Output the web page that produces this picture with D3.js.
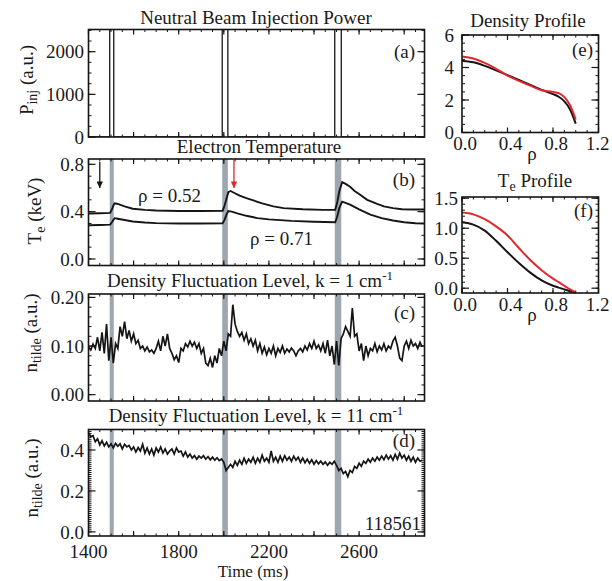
<!DOCTYPE html>
<html>
<head>
<meta charset="utf-8">
<script src="https://cdn.jsdelivr.net/npm/d3@7/dist/d3.min.js"></script>
<style>
body { margin: 0; background: #fff; }
text { font-family: "Liberation Serif", "Times New Roman", serif; fill: #1a1a1a; }
</style>
</head>
<body>
<div id="canvas"></div>
<script>
"use strict"

/* Configuration variables: drawing */
let svgWidth = 612;
let svgHeight = 581;
let fontSize = 19;
let bandColor = "#9ea6b0";
let redColor = "#e3262b";
let lineColor = "#151515";

/* Beam pulses: on / off times (ms) */
let beamOn = [1494, 1993, 2492];
let beamOff = [1512, 2018, 2521];
/* P_inj step trace (off the top of the axis while the beam is on) */
let pinjTime = [1400, 1494, 1494, 1512, 1512, 1993, 1993, 2018, 2018, 2492, 2492, 2521, 2521, 2890];
let pinjValue = [0, 0, 3000, 3000, 0, 0, 3000, 3000, 0, 0, 3000, 3000, 0, 0];

/* Electron temperature at rho = 0.52 and rho = 0.71 (keV) */
let te52Time = [1400, 1450, 1496, 1504, 1510, 1516, 1530, 1560, 1596, 1650, 1700, 1800, 1900, 1995, 2003, 2012, 2020, 2030, 2045, 2070, 2100, 2131, 2170, 2220, 2265, 2350, 2440, 2494, 2502, 2512, 2525, 2540, 2560, 2580, 2600, 2636, 2680, 2710, 2750, 2790, 2840, 2890];
let te52 = [0.385, 0.387, 0.39, 0.42, 0.45, 0.47, 0.465, 0.445, 0.425, 0.415, 0.41, 0.405, 0.405, 0.408, 0.45, 0.51, 0.565, 0.575, 0.56, 0.535, 0.515, 0.495, 0.47, 0.445, 0.43, 0.42, 0.415, 0.416, 0.47, 0.57, 0.65, 0.635, 0.61, 0.575, 0.55, 0.5, 0.465, 0.445, 0.43, 0.42, 0.418, 0.418];
let te71Time = [1400, 1450, 1496, 1504, 1510, 1516, 1530, 1560, 1596, 1650, 1700, 1800, 1900, 1995, 2003, 2012, 2020, 2035, 2060, 2100, 2150, 2200, 2300, 2400, 2494, 2502, 2512, 2525, 2540, 2560, 2600, 2650, 2700, 2750, 2800, 2850, 2890];
let te71 = [0.285, 0.287, 0.29, 0.31, 0.33, 0.345, 0.34, 0.33, 0.317, 0.308, 0.303, 0.3, 0.3, 0.302, 0.33, 0.375, 0.405, 0.4, 0.385, 0.365, 0.345, 0.335, 0.322, 0.315, 0.31, 0.35, 0.43, 0.485, 0.475, 0.46, 0.42, 0.375, 0.345, 0.325, 0.31, 0.302, 0.3];

/* Density fluctuation level, samples every 10 ms from 1400 ms */
let fluctStart = 1400;
let fluctStep = 10;
let nk1 = [
    0.098, 0.092, 0.104, 0.095, 0.118, 0.09, 0.128, 0.085, 0.145, 0.07,
    0.118, 0.065, 0.105, 0.095, 0.14, 0.12, 0.15, 0.115, 0.132, 0.11,
    0.125, 0.105, 0.112, 0.095, 0.1, 0.09, 0.098, 0.088, 0.092, 0.085,
    0.095, 0.11, 0.09, 0.12, 0.1, 0.125, 0.095, 0.085, 0.072, 0.08,
    0.066, 0.095, 0.09, 0.105, 0.098, 0.11, 0.1, 0.108, 0.095, 0.105,
    0.085, 0.095, 0.065, 0.06, 0.075, 0.056, 0.08, 0.065, 0.095, 0.08,
    0.11, 0.09, 0.125, 0.12, 0.185, 0.145, 0.13, 0.12, 0.128, 0.112,
    0.125, 0.105, 0.115, 0.1, 0.112, 0.09, 0.105, 0.085, 0.098, 0.082,
    0.095, 0.085, 0.1, 0.08, 0.095, 0.087, 0.1, 0.085, 0.094, 0.088,
    0.096, 0.09, 0.08, 0.09, 0.095, 0.088, 0.1, 0.092, 0.105, 0.095,
    0.11, 0.095, 0.102, 0.09, 0.105, 0.085, 0.112, 0.08, 0.1, 0.062,
    0.11, 0.06, 0.115, 0.125, 0.14, 0.13, 0.12, 0.178, 0.12, 0.125,
    0.09, 0.105, 0.07, 0.1, 0.08, 0.095, 0.09, 0.105, 0.088, 0.1,
    0.092, 0.105, 0.09, 0.1, 0.095, 0.11, 0.118, 0.1, 0.075, 0.07,
    0.1, 0.11, 0.095, 0.112, 0.1, 0.105, 0.095, 0.108, 0.098
];
let nk11 = [
    0.485, 0.465, 0.47, 0.44, 0.455, 0.425, 0.445, 0.42, 0.438, 0.415,
    0.43, 0.41, 0.432, 0.418, 0.43, 0.405, 0.428, 0.415, 0.422, 0.4,
    0.415, 0.39, 0.412, 0.395, 0.428, 0.385, 0.41, 0.38, 0.405, 0.375,
    0.41, 0.39, 0.415, 0.385, 0.405, 0.38, 0.395, 0.405, 0.38, 0.41,
    0.39, 0.395, 0.37, 0.39, 0.365, 0.38, 0.36, 0.372, 0.355, 0.37,
    0.36, 0.372, 0.355, 0.368, 0.352, 0.365, 0.35, 0.362, 0.348, 0.356,
    0.34, 0.3, 0.315, 0.33, 0.315, 0.345, 0.325, 0.35, 0.33, 0.36,
    0.335, 0.355, 0.34, 0.365, 0.335, 0.36, 0.34, 0.375, 0.345, 0.36,
    0.34, 0.395, 0.345, 0.365, 0.34, 0.37, 0.345, 0.372, 0.35, 0.365,
    0.345, 0.37, 0.35, 0.365, 0.34, 0.36, 0.338, 0.355, 0.335, 0.352,
    0.33, 0.348, 0.332, 0.345, 0.33, 0.342, 0.325, 0.34, 0.33, 0.345,
    0.325, 0.3, 0.31, 0.285, 0.295, 0.27, 0.3, 0.29, 0.32, 0.31,
    0.335, 0.32, 0.345, 0.335, 0.355, 0.34, 0.36, 0.345, 0.365, 0.35,
    0.37, 0.352, 0.375, 0.355, 0.372, 0.35, 0.378, 0.355, 0.385, 0.36,
    0.375, 0.35, 0.37, 0.345, 0.365, 0.34, 0.36, 0.345, 0.35
];

/* Profiles vs rho: black = before, red = after the pulse */
let rho = [0, 0.1, 0.2, 0.3, 0.4, 0.5, 0.6, 0.7, 0.8, 0.85, 0.9, 0.95, 1.0];
let neBlack = [4.42, 4.32, 4.1, 3.82, 3.53, 3.23, 2.93, 2.62, 2.36, 2.2, 1.92, 1.42, 0.55];
let neRed = [4.68, 4.55, 4.28, 3.92, 3.5, 3.18, 2.88, 2.6, 2.5, 2.42, 2.18, 1.68, 0.8];
let teBlack = [1.1, 1.06, 0.96, 0.79, 0.6, 0.42, 0.26, 0.13, 0.04, 0.01, -0.02, -0.05, -0.07];
let teRed = [1.26, 1.23, 1.15, 1.03, 0.88, 0.67, 0.47, 0.3, 0.16, 0.1, 0.04, -0.02, -0.07];

/* Tick labels */
let timeLabels = [1400, 1800, 2200, 2600];
let rhoLabels = [0, 0.4, 0.8, 1.2];


let svg = d3.select("#canvas")
    .append("svg")
    .attr("width", svgWidth)
    .attr("height", svgHeight);

svg.append("rect")
    .attr("width", svgWidth)
    .attr("height", svgHeight)
    .attr("fill", "white");

/* shared time scale for the four left panels */
let xTime = d3.scaleLinear()
    .domain([1400, 2890])
    .range([88.5, 424.5]);

let xRho = d3.scaleLinear()
    .domain([0, 1.2])
    .range([462, 598.5]);

/* draws the box and the inward ticks on all four sides */
function drawFrame(xs, ys, xMajor, xMinor, yMajor, yMinor) {
    let x0 = xs.range()[0], x1 = xs.range()[1];
    let y0 = ys.range()[0], y1 = ys.range()[1];
    let g = svg.append("g").attr("stroke", lineColor).attr("fill", "none");

    xMinor.forEach(function (v) {
        g.append("line").attr("x1", xs(v)).attr("x2", xs(v)).attr("y1", y0).attr("y2", y0 - 2.5).attr("stroke-width", 1);
        g.append("line").attr("x1", xs(v)).attr("x2", xs(v)).attr("y1", y1).attr("y2", y1 + 2.5).attr("stroke-width", 1);
    });
    xMajor.forEach(function (v) {
        g.append("line").attr("x1", xs(v)).attr("x2", xs(v)).attr("y1", y0).attr("y2", y0 - 5).attr("stroke-width", 1.2);
        g.append("line").attr("x1", xs(v)).attr("x2", xs(v)).attr("y1", y1).attr("y2", y1 + 5).attr("stroke-width", 1.2);
    });
    yMinor.forEach(function (v) {
        g.append("line").attr("x1", x0).attr("x2", x0 + 3).attr("y1", ys(v)).attr("y2", ys(v)).attr("stroke-width", 1);
        g.append("line").attr("x1", x1).attr("x2", x1 - 3).attr("y1", ys(v)).attr("y2", ys(v)).attr("stroke-width", 1);
    });
    yMajor.forEach(function (v) {
        g.append("line").attr("x1", x0).attr("x2", x0 + 7).attr("y1", ys(v)).attr("y2", ys(v)).attr("stroke-width", 1.2);
        g.append("line").attr("x1", x1).attr("x2", x1 - 7).attr("y1", ys(v)).attr("y2", ys(v)).attr("stroke-width", 1.2);
    });

    g.append("rect")
        .attr("x", x0)
        .attr("y", y1)
        .attr("width", x1 - x0)
        .attr("height", y0 - y1)
        .attr("stroke-width", 1.6);
}

/* y tick labels on the left */
function yLabels(ys, values, x, fmt) {
    values.forEach(function (v) {
        svg.append("text")
            .attr("x", x)
            .attr("y", ys(v))
            .attr("dy", "0.35em")
            .attr("text-anchor", "end")
            .attr("font-size", fontSize)
            .text(fmt(v));
    });
}

function clipFor(id, xs, ys) {
    svg.append("clipPath").attr("id", id)
        .append("rect")
        .attr("x", xs.range()[0])
        .attr("y", ys.range()[1])
        .attr("width", xs.range()[1] - xs.range()[0])
        .attr("height", ys.range()[0] - ys.range()[1]);
}

function bands(ys) {
    for (let i = 0; i < beamOn.length; i++) {
        svg.append("rect")
            .attr("x", xTime(beamOn[i]))
            .attr("y", ys.range()[1])
            .attr("width", xTime(beamOff[i]) - xTime(beamOn[i]))
            .attr("height", ys.range()[0] - ys.range()[1])
            .attr("fill", bandColor);
    }
}

function plainText(x, y, str, anchor) {
    return svg.append("text")
        .attr("x", x)
        .attr("y", y)
        .attr("text-anchor", anchor || "middle")
        .attr("font-size", fontSize)
        .text(str);
}

/* rotated axis title with a subscript */
function yTitle(x, y, main, sub, rest) {
    let t = svg.append("text")
        .attr("transform", "translate(" + x + "," + y + ") rotate(-90)")
        .attr("text-anchor", "middle")
        .attr("font-size", fontSize);
    t.append("tspan").text(main);
    t.append("tspan").attr("font-size", 14).attr("dy", 4).text(sub);
    t.append("tspan").attr("dy", -4).text(rest);
}

let timeLine = function (xs, ys) {
    return d3.line()
        .x(function (d) { return xs(d[0]); })
        .y(function (d) { return ys(d[1]); });
};

/* rho tick labels sit a little right of the tick, except the last one */
function rhoLabelX(r) {
    return r < 1.2 ? xRho(r) + 3 : xRho(r) - 1;
}

/**** (a) Neutral beam injection power ****/
let yA = d3.scaleLinear().domain([0, 2520]).range([137, 29.5]);
clipFor("clipA", xTime, yA);
svg.append("path")
    .datum(pinjTime.map(function (t, i) { return [t, pinjValue[i]]; }))
    .attr("clip-path", "url(#clipA)")
    .attr("fill", "none")
    .attr("stroke", lineColor)
    .attr("stroke-width", 1.3)
    .attr("d", timeLine(xTime, yA));
drawFrame(xTime, yA, d3.range(1400, 2891, 200), d3.range(1400, 2891, 50), [0, 1000, 2000], d3.range(0, 2521, 250));
yLabels(yA, [0, 1000, 2000], 84, d3.format("d"));
plainText(256, 24, "Neutral Beam Injection Power");
plainText(415, 58, "(a)", "end");
yTitle(33, 80, "P", "inj", " (a.u.)");

/**** (b) Electron temperature ****/
let yB = d3.scaleLinear().domain([-0.055, 0.845]).range([265.5, 159]);
bands(yB);
[[te52Time, te52], [te71Time, te71]].forEach(function (s) {
    svg.append("path")
        .datum(s[0].map(function (t, i) { return [t, s[1][i]]; }))
        .attr("fill", "none")
        .attr("stroke", lineColor)
        .attr("stroke-width", 1.9)
        .attr("d", timeLine(xTime, yB));
});
drawFrame(xTime, yB, d3.range(1400, 2891, 200), d3.range(1400, 2891, 50), [0, 0.4, 0.8], d3.range(0, 0.81, 0.1));
yLabels(yB, [0, 0.4, 0.8], 84, d3.format(".1f"));
plainText(259, 153, "Electron Temperature");
plainText(415, 186, "(b)", "end");
plainText(138, 201.5, "\u03c1 = 0.52", "start");
plainText(250, 245, "\u03c1 = 0.71", "start");
yTitle(41, 211, "T", "e", " (keV)");

/* arrows marking the profile times */
let defs = svg.append("defs");
[["headBlack", lineColor], ["headRed", redColor]].forEach(function (m) {
    defs.append("marker")
        .attr("id", m[0])
        .attr("viewBox", "0 0 10 10")
        .attr("refX", 10).attr("refY", 5)
        .attr("markerWidth", 5).attr("markerHeight", 5)
        .attr("orient", "auto")
        .append("path")
        .attr("d", "M0,0 L10,5 L0,10 Z")
        .attr("fill", m[1]);
});
svg.append("line")
    .attr("x1", xTime(1450)).attr("x2", xTime(1450))
    .attr("y1", yB(0.82)).attr("y2", yB(0.6))
    .attr("stroke", lineColor).attr("stroke-width", 1.3)
    .attr("marker-end", "url(#headBlack)");
svg.append("line")
    .attr("x1", xTime(2045)).attr("x2", xTime(2045))
    .attr("y1", yB(0.84)).attr("y2", yB(0.6))
    .attr("stroke", redColor).attr("stroke-width", 1.3)
    .attr("marker-end", "url(#headRed)");

/**** (c) Density fluctuation, k = 1 ****/
let yC = d3.scaleLinear().domain([-0.013, 0.207]).range([401, 294]);
bands(yC);
svg.append("path")
    .datum(nk1.map(function (v, i) { return [fluctStart + i * fluctStep, v]; }))
    .attr("fill", "none")
    .attr("stroke", lineColor)
    .attr("stroke-width", 1.7)
    .attr("d", timeLine(xTime, yC));
drawFrame(xTime, yC, d3.range(1400, 2891, 200), d3.range(1400, 2891, 50), [0, 0.1, 0.2], d3.range(0, 0.201, 0.02));
yLabels(yC, [0, 0.1, 0.2], 84, d3.format(".2f"));
let titleC = plainText(250, 287, "Density Fluctuation Level, k = 1 cm");
titleC.append("tspan").attr("font-size", 13).attr("dy", -7).text("-1");
plainText(415, 319, "(c)", "end");
yTitle(37, 333, "n", "tilde", " (a.u.)");

/**** (d) Density fluctuation, k = 11 ****/
let yD = d3.scaleLinear().domain([-0.02, 0.5]).range([536, 429.5]);
bands(yD);
svg.append("path")
    .datum(nk11.map(function (v, i) { return [fluctStart + i * fluctStep, v]; }))
    .attr("fill", "none")
    .attr("stroke", lineColor)
    .attr("stroke-width", 1.7)
    .attr("d", timeLine(xTime, yD));
drawFrame(xTime, yD, d3.range(1400, 2891, 200), d3.range(1400, 2891, 50), [0, 0.2, 0.4], d3.range(0, 0.5, 0.01));
yLabels(yD, [0, 0.2, 0.4], 84, d3.format(".1f"));
let titleD = plainText(256, 422, "Density Fluctuation Level, k = 11 cm");
titleD.append("tspan").attr("font-size", 13).attr("dy", -7).text("-1");
plainText(415, 447, "(d)", "end");
plainText(421, 530, "118561", "end");
yTitle(38, 478, "n", "tilde", " (a.u.)");

/* time axis labels */
timeLabels.forEach(function (t) {
    plainText(xTime(t), 557.5, String(t));
});
plainText(253, 577, "Time (ms)").attr("font-size", 17);

/**** (e) Density profile ****/
let yE = d3.scaleLinear().domain([0, 6]).range([132.5, 35]);
let profLine = function (ys) {
    return d3.line()
        .x(function (d) { return xRho(d[0]); })
        .y(function (d) { return ys(d[1]); })
        .curve(d3.curveMonotoneX);
};
[[neBlack, lineColor], [neRed, redColor]].forEach(function (s) {
    svg.append("path")
        .datum(rho.map(function (r, i) { return [r, s[0][i]]; }))
        .attr("fill", "none")
        .attr("stroke", s[1])
        .attr("stroke-width", 2)
        .attr("d", profLine(yE));
});
drawFrame(xRho, yE, rhoLabels, d3.range(0, 1.21, 0.1), [0, 2, 4, 6], d3.range(0, 6.01, 0.5));
yLabels(yE, [0, 2, 4, 6], 454, d3.format("d"));
rhoLabels.forEach(function (r) {
    plainText(rhoLabelX(r), 150, d3.format(".1f")(r));
});
plainText(532, 160, "\u03c1");
plainText(528, 27, "Density Profile");
plainText(593, 56, "(e)", "end");

/**** (f) Te profile ****/
let yF = d3.scaleLinear().domain([-0.08, 1.52]).range([293, 197]);
[[teBlack, lineColor], [teRed, redColor]].forEach(function (s) {
    svg.append("path")
        .datum(rho.map(function (r, i) { return [r, s[0][i]]; }))
        .attr("fill", "none")
        .attr("stroke", s[1])
        .attr("stroke-width", 2)
        .attr("d", profLine(yF));
});
drawFrame(xRho, yF, rhoLabels, d3.range(0, 1.21, 0.1), [0, 0.5, 1, 1.5], d3.range(0, 1.51, 0.1));
yLabels(yF, [0, 0.5, 1, 1.5], 458, d3.format(".1f"));
rhoLabels.forEach(function (r) {
    plainText(rhoLabelX(r), 311, d3.format(".1f")(r));
});
plainText(532, 321, "\u03c1");
let titleF = plainText(535, 187, "T");
titleF.append("tspan").attr("font-size", 14).attr("dy", 4).text("e");
titleF.append("tspan").attr("dy", -4).text(" Profile");
plainText(593, 217, "(f)", "end");
</script>
</body>
</html>
